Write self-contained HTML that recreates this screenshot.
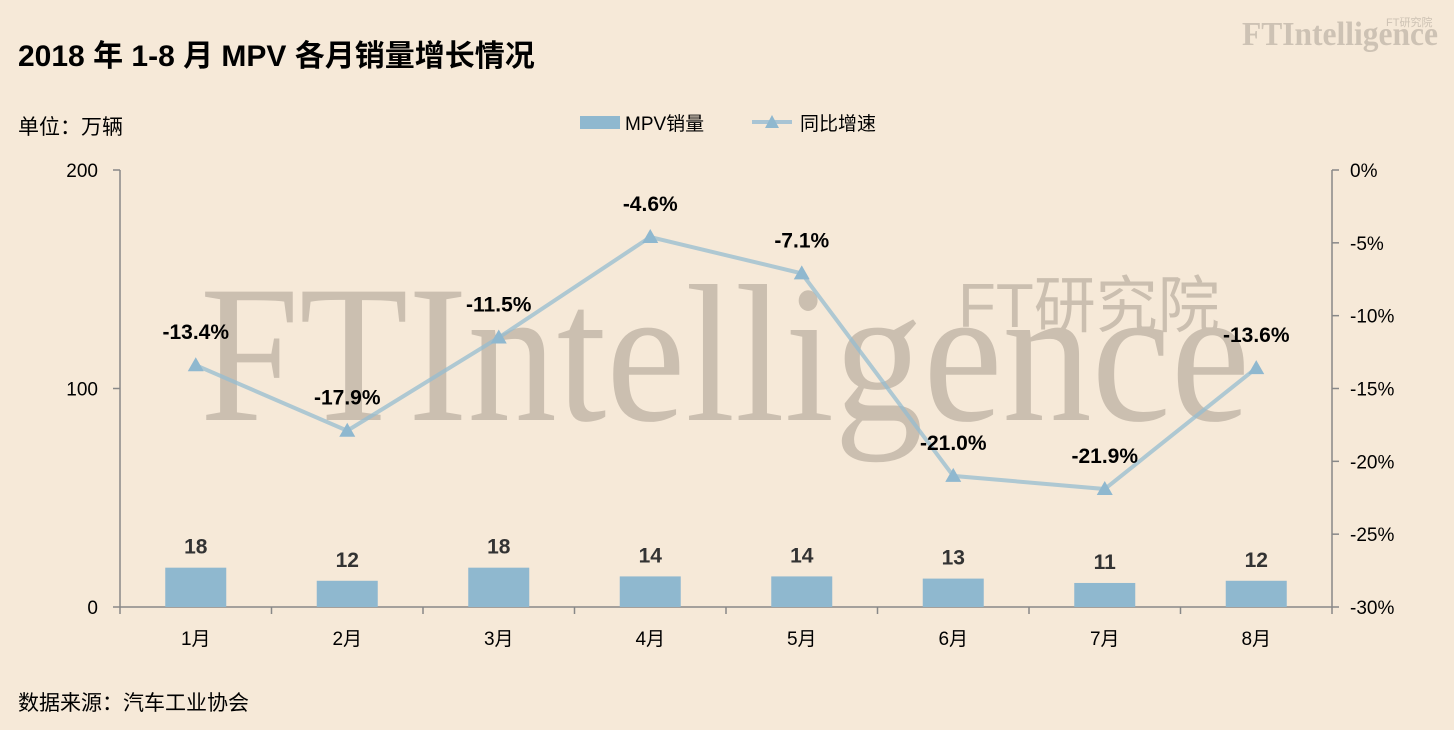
<!DOCTYPE html>
<html><head><meta charset="utf-8">
<style>
html,body{margin:0;padding:0;background:#f6e9d8;}
svg{display:block;font-family:"Liberation Sans","Noto Sans CJK SC",sans-serif;}
</style></head>
<body>
<svg id="chart" width="1454" height="730" viewBox="0 0 1454 730">
<rect x="0" y="0" width="1454" height="730" fill="#f6e9d8"/>
<text x="1242" y="45" font-family="Liberation Serif,serif" font-size="34" font-weight="bold" fill="#cdc2b4" textLength="196" lengthAdjust="spacingAndGlyphs">FTIntelligence</text>
<text x="1386" y="26" font-size="11" fill="#cdc2b4">FT研究院</text>
<text x="18" y="66" font-size="30" font-weight="bold" fill="#000">2018 年 1-8 月 MPV 各月销量增长情况</text>
<text x="18" y="134" font-size="21" fill="#000">单位：万辆</text>
<g>
<rect x="580" y="116" width="40" height="13" fill="#8fb8cf"/>
<text x="625" y="130" font-size="19" fill="#000">MPV销量</text>
<line x1="752" y1="122" x2="792" y2="122" stroke="#a8c4d4" stroke-width="4"/>
<polygon points="772,115 779,128 765,128" fill="#8fb8cf"/>
<text x="800" y="130" font-size="19" fill="#000">同比增速</text>
</g>
<text x="958" y="327" font-size="62" fill="#cbbfb0">FT研究院</text>
<text x="200" y="420" font-family="Liberation Serif,serif" font-size="196" fill="#cbbfb0" textLength="1050" lengthAdjust="spacingAndGlyphs">FTIntelligence</text>
<g id="axes"></g>
<g id="marks"></g>
<text x="18" y="710" font-size="21" fill="#000">数据来源：汽车工业协会</text>
</svg>
<script>
const categories=["1月","2月","3月","4月","5月","6月","7月","8月"];
const sales=[18,12,18,14,14,13,11,12];
const growth=[-13.4,-17.9,-11.5,-4.6,-7.1,-21.0,-21.9,-13.6];
const leftTicks=[0,100,200];
const rightTicks=[0,-5,-10,-15,-20,-25,-30];
const NS="http://www.w3.org/2000/svg";
const X0=120,X1=1332,YT=170,YB=607;
const step=(X1-X0)/categories.length;
const xc=i=>X0+step*(i+0.5);
const yL=v=>YB-(v/200)*(YB-YT);
const yR=v=>YT+(-v/30)*(YB-YT);
function mk(tag,attrs,parent,txt){const e=document.createElementNS(NS,tag);for(const k in attrs)e.setAttribute(k,attrs[k]);if(txt!==undefined)e.textContent=txt;parent.appendChild(e);return e;}
const ax=document.getElementById('axes'),mg=document.getElementById('marks');
let e;
e=mk('line',{x1:X0,y1:YT,x2:X0,y2:YB,stroke:'#888','stroke-width':1.5},ax);


e=mk('line',{x1:X1,y1:YT,x2:X1,y2:YB,stroke:'#888','stroke-width':1.5},ax);


e=mk('line',{x1:X0,y1:YB,x2:X1,y2:YB,stroke:'#888','stroke-width':1.5},ax);


leftTicks.forEach(v=>{
 e=mk('line',{x1:X0-7,y1:yL(v),x2:X0,y2:yL(v),stroke:'#888','stroke-width':1.5},ax);
 
 
 e=mk('text',{x:X0-22,y:yL(v)+7,'text-anchor':'end','font-size':19,fill:'#000'},ax,String(v));
 
 
});
rightTicks.forEach(v=>{
 e=mk('line',{x1:X1,y1:yR(v),x2:X1+7,y2:yR(v),stroke:'#888','stroke-width':1.5},ax);
 
 
 e=mk('text',{x:X1+18,y:yR(v)+7,'font-size':19,fill:'#000'},ax,v+'%');
 
 
});
for(let i=0;i<=categories.length;i++){
 e=mk('line',{x1:X0+step*i,y1:YB,x2:X0+step*i,y2:YB+7,stroke:'#888','stroke-width':1.5},ax);
 
 
}
categories.forEach((c,i)=>{
 e=mk('text',{x:xc(i),y:YB+38,'text-anchor':'middle','font-size':19,fill:'#000'},ax,c);
 
 
});
const bw=61;
sales.forEach((v,i)=>{
 e=mk('rect',{x:xc(i)-bw/2,y:yL(v),width:bw,height:YB-yL(v),fill:'#8fb8cf'},mg);
 
 
 e=mk('text',{x:xc(i),y:yL(v)-14,'text-anchor':'middle','font-size':21,'font-weight':'bold',fill:'#333'},mg,String(v));
 
 
});
e=mk('polyline',{points:growth.map((v,i)=>xc(i)+','+yR(v)).join(' '),fill:'none',stroke:'rgba(150,188,208,0.75)','stroke-width':4},mg);


growth.forEach((v,i)=>{
 const x=xc(i),y=yR(v);
 e=mk('polygon',{points:`${x},${y-8} ${x+8},${y+6} ${x-8},${y+6}`,fill:'#8fb8cf'},mg);
 
 
 e=mk('text',{x:x,y:y-26,'text-anchor':'middle','font-size':21,'font-weight':'bold',fill:'#000'},mg,v.toFixed(1)+'%');
 
 
});
</script>
</body></html>
